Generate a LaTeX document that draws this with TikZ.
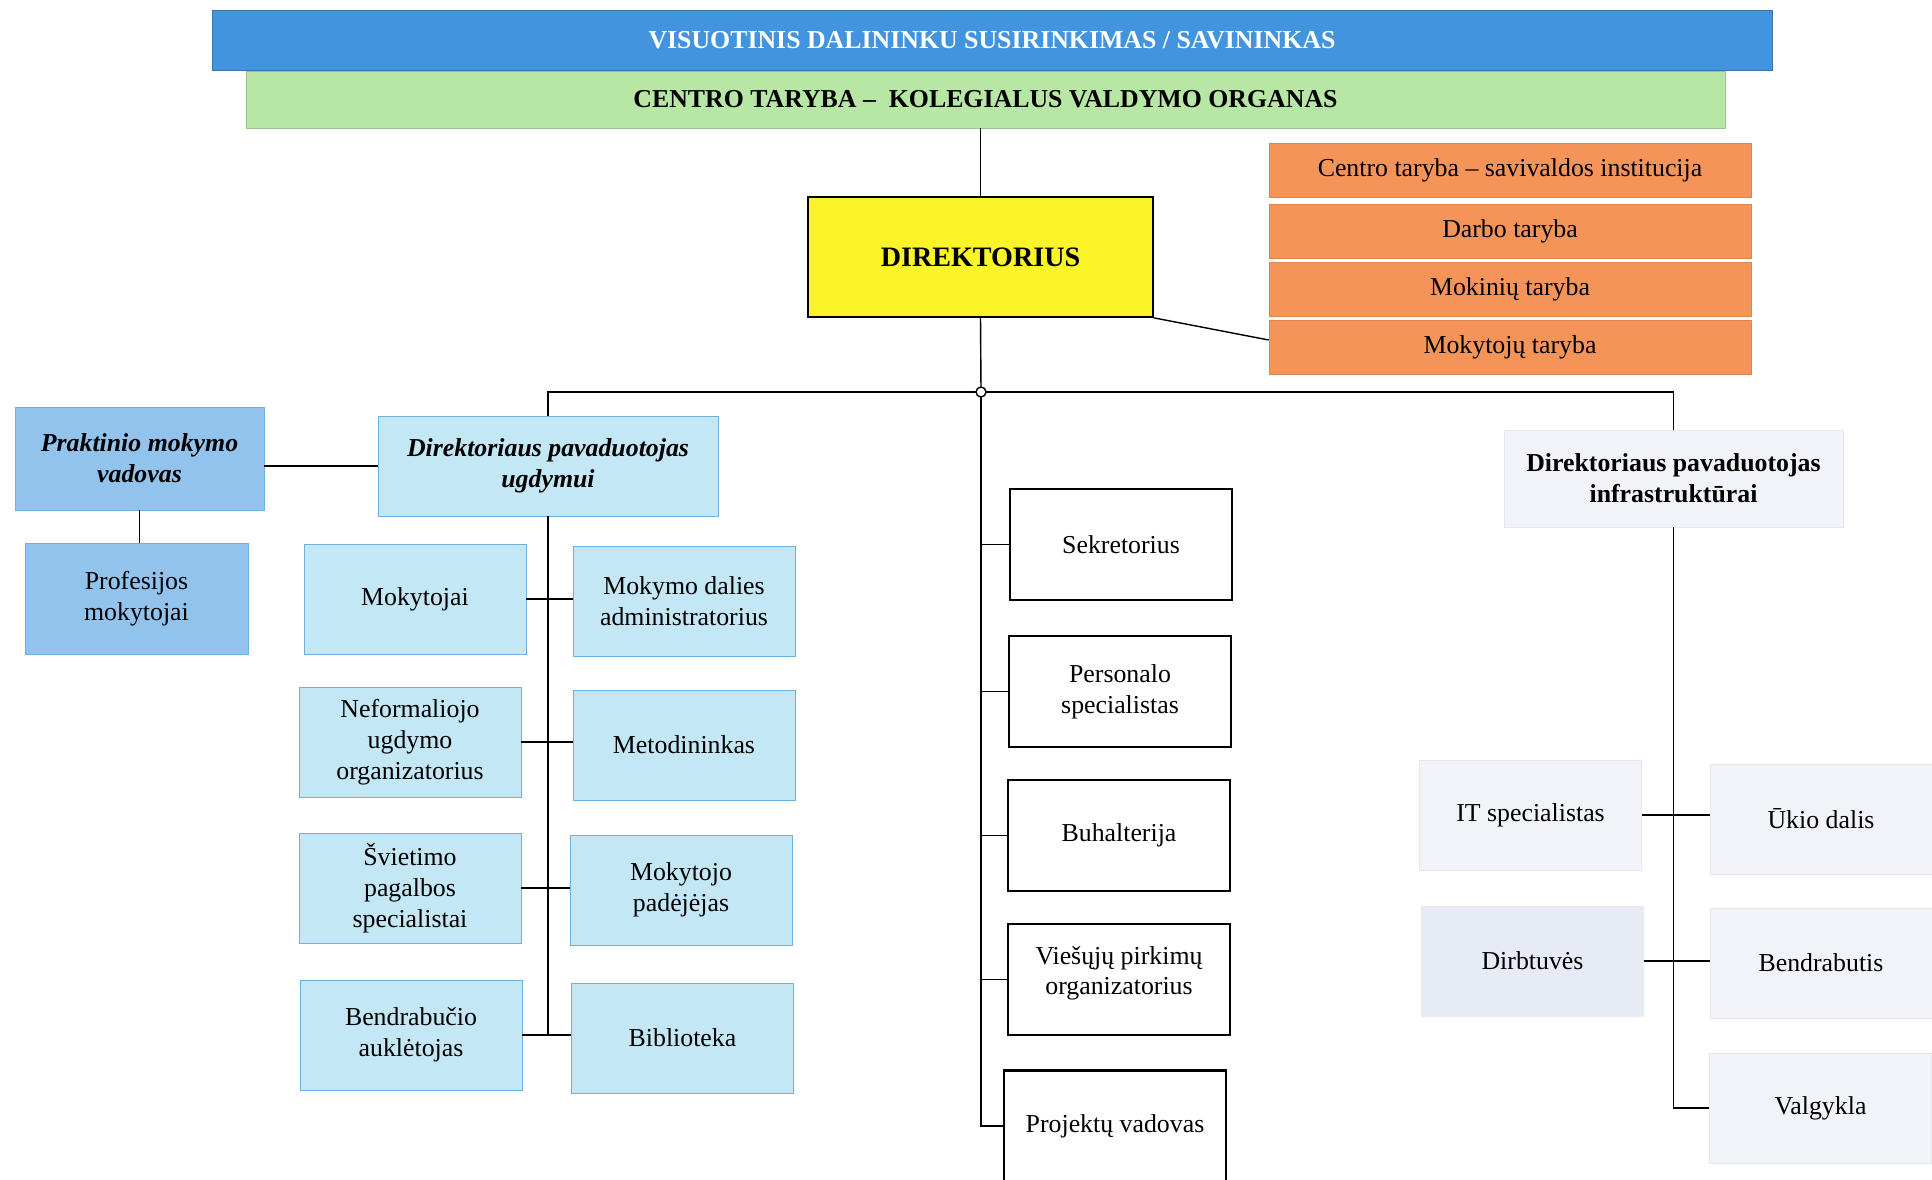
\documentclass[tikz,border=0pt]{standalone}
\usepackage{fontspec}
\setmainfont{Liberation Serif}
\usepackage{tikz}
\usetikzlibrary{calc}
\definecolor{barblue}{RGB}{66,148,222}
\definecolor{bargreen}{RGB}{184,230,164}
\definecolor{orangebox}{RGB}{244,148,88}
\definecolor{yellowbox}{RGB}{250,244,40}
\definecolor{midblue}{RGB}{146,195,236}
\definecolor{lightblue}{RGB}{196,231,246}
\definecolor{edgeblue}{RGB}{112,176,222}
\definecolor{greybox}{RGB}{241,243,248}
\definecolor{greyblue}{RGB}{231,235,246}
\newcommand{\boxfont}{\fontsize{14.7}{17.5}\selectfont}
\tikzset{
    bar/.style = {minimum width=31.2cm, minimum height=1.2cm, fill=barblue, draw=barblue!80!black, font=\boxfont\bfseries, text=white},
    council/.style = {minimum width=29.58cm, minimum height=1.14cm, fill=bargreen, draw=bargreen!85!black, font=\boxfont\bfseries},
    selfgov/.style = {minimum width=9.64cm, minimum height=1.08cm, fill=orangebox, draw=orangebox!90!black, font=\boxfont},
    chief/.style = {minimum width=6.9cm, minimum height=2.4cm, fill=yellowbox, draw, line width=1pt, font=\fontsize{16}{19}\selectfont\bfseries},
    practice/.style = {fill=midblue, draw=edgeblue, align=center, font=\boxfont},
    edu/.style = {minimum width=4.44cm, minimum height=2.2cm, fill=lightblue, draw=edgeblue, align=center, font=\boxfont},
    office/.style = {minimum width=4.44cm, minimum height=2.22cm, draw, line width=1.4pt, align=center, font=\boxfont},
    infra/.style = {minimum width=4.44cm, minimum height=2.2cm, fill=greybox, draw=greybox!95!black, align=center, font=\boxfont},
    link/.style = {line width=0.8pt}
}

\begin{document}
\begin{tikzpicture}[x=0.02cm, y=-0.02cm]
        \useasboundingbox (0,0) rectangle (1932,1179);
        \node[bar] (owners) at (992,40) {VISUOTINIS DALININKU SUSIRINKIMAS / SAVININKAS};
        \node[council] (board) at (985.5,99.5) {CENTRO TARYBA –\ \ KOLEGIALUS VALDYMO ORGANAS};
        \node[chief] (dir) at (980.5,257) {DIREKTORIUS};
        \node[selfgov] (ctaryba) at (1510,170) {Centro taryba – savivaldos institucija};
        \node[selfgov] (dtaryba) at (1510,231) {Darbo taryba};
        \node[selfgov] (mtaryba) at (1510,289) {Mokinių taryba};
        \node[selfgov] (ktaryba) at (1510,347) {Mokytojų taryba};
        \coordinate (hub) at (981,392);

        \node[practice, minimum width=4.98cm, minimum height=2.06cm, font=\boxfont\bfseries\itshape] (prakt) at (139.5,458.5) {Praktinio mokymo\\vadovas};
        \node[practice, minimum width=4.46cm, minimum height=2.22cm] (prof) at (136.5,598.5) {Profesijos\\mokytojai};
        \node[edu, minimum width=6.8cm, minimum height=2cm, font=\boxfont\bfseries\itshape] (ugd) at (548,466) {Direktoriaus pavaduotojas\\ugdymui};
        \node[edu] (mok) at (415,599) {Mokytojai};
        \node[edu] (admin) at (684,601.5) {Mokymo dalies\\administratorius};
        \node[edu] (neform) at (410,742) {Neformaliojo\\ugdymo\\organizatorius};
        \node[edu] (metod) at (684,745) {Metodininkas};
        \node[edu] (svietimo) at (410,888) {Švietimo\\pagalbos\\specialistai};
        \node[edu] (padej) at (681,890) {Mokytojo\\padėjėjas};
        \node[edu] (aukl) at (411,1035) {Bendrabučio\\auklėtojas};
        \node[edu] (bibl) at (682.5,1038) {Biblioteka};

        \node[office] (sekr) at (1121,544.5) {Sekretorius};
        \node[office] (pers) at (1120,691.5) {Personalo\\specialistas};
        \node[office] (buh) at (1119,835.5) {Buhalterija};
        \node[office] (pirk) at (1119,979.5) {Viešųjų pirkimų\\organizatorius\\[-0.5em]\mbox{}};
        \node[office] (proj) at (1115,1126) {Projektų vadovas};

        \node[infra, minimum width=6.78cm, minimum height=1.94cm, font=\boxfont\bfseries] (infr) at (1673.5,478.5) {Direktoriaus pavaduotojas\\infrastruktūrai};
        \node[infra] (it) at (1530.5,815) {IT specialistas};
        \node[infra] (ukis) at (1821,819) {Ūkio dalis};
        \node[infra, fill=greyblue, draw=greyblue] (dirbt) at (1532.5,961) {Dirbtuvės};
        \node[infra] (bendr) at (1821,963) {Bendrabutis};
        \node[infra] (valg) at (1820.5,1108) {Valgykla};

        \draw[link] (dir.north) -- (dir.north |- board.south);
        \draw[link] (dir.south east) -- ([yshift=0.14cm]ktaryba.west);
        \draw[link] (dir.south) -- (hub);
        \draw[link] (ugd.north) |- (hub) -| (infr.north);
        \draw[link] (ugd.west) -- (ugd.west -| prakt.east);
        \draw[link] (prakt.south) -- (prakt.south |- prof.north);
        \draw[link] (ugd.south) -- (ugd.south |- aukl.east);
        \draw[link] (mok.east) -- (mok.east -| admin.west);
        \draw[link] (neform.east) -- (neform.east -| metod.west);
        \draw[link] (svietimo.east) -- (svietimo.east -| padej.west);
        \draw[link] (aukl.east) -- (aukl.east -| bibl.west);
        \draw[link] (hub) -- (hub |- proj.west) -- (proj.west);
        \draw[link] (hub |- sekr.west) -- (sekr.west);
        \draw[link] (hub |- pers.west) -- (pers.west);
        \draw[link] (hub |- buh.west) -- (buh.west);
        \draw[link] (hub |- pirk.west) -- (pirk.west);
        \draw[link] (infr.south) -- (infr.south |- valg.west) -- (valg.west);
        \draw[link] (it.east) -- (it.east -| ukis.west);
        \draw[link] (dirbt.east) -- (dirbt.east -| bendr.west);
        \draw[link, fill=white] (hub) circle (0.1cm);
\end{tikzpicture}
\end{document}
